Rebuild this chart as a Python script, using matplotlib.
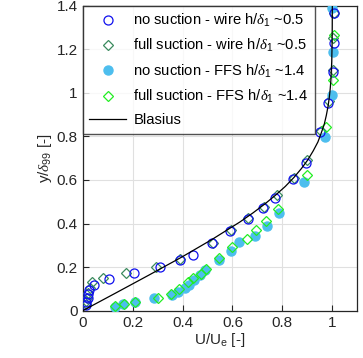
import matplotlib.pyplot as plt

plt.rcParams['font.family'] = ['Liberation Sans', 'DejaVu Sans']
plt.rcParams['mathtext.fontset'] = 'custom'
plt.rcParams['mathtext.it'] = 'Liberation Serif:italic'
plt.rcParams['mathtext.rm'] = 'Liberation Sans'

# no suction - wire
wire_ns_u = [0.012, 0.015, 0.02, 0.02, 0.025, 0.047, 0.106, 0.207, 0.311, 0.389, 0.44,
             0.519, 0.59, 0.661, 0.722, 0.77, 0.843, 0.893, 0.952, 0.983, 1.003, 1.005, 1.005]
wire_ns_y = [0.025, 0.04, 0.06, 0.075, 0.095, 0.118, 0.144, 0.171, 0.199, 0.233, 0.254,
             0.309, 0.364, 0.419, 0.473, 0.518, 0.603, 0.679, 0.818, 0.954, 1.096, 1.229, 1.364]

# full suction - wire
wire_fs_u = [0.012, 0.015, 0.018, 0.02, 0.03, 0.036, 0.083, 0.174, 0.294, 0.39, 0.52,
             0.595, 0.664, 0.728, 0.778, 0.846, 0.898, 0.955, 0.985, 1.004, 1.004, 1.005]
wire_fs_y = [0.03, 0.045, 0.06, 0.08, 0.105, 0.13, 0.151, 0.174, 0.202, 0.236, 0.31,
             0.37, 0.424, 0.476, 0.533, 0.611, 0.69, 0.825, 0.96, 1.104, 1.25, 1.365]

# no suction - FFS
ffs_ns_u = [0.13, 0.16, 0.21, 0.287, 0.356, 0.38, 0.409, 0.425, 0.445, 0.47, 0.49,
            0.546, 0.593, 0.628, 0.69, 0.738, 0.788, 0.888, 0.969, 0.999, 1.003, 1.0]
ffs_ns_y = [0.018, 0.03, 0.04, 0.057, 0.07, 0.085, 0.105, 0.12, 0.14, 0.165, 0.185,
            0.233, 0.274, 0.314, 0.344, 0.389, 0.447, 0.592, 0.798, 0.99, 1.188, 1.387]

# full suction - FFS
ffs_fs_u = [0.128, 0.166, 0.21, 0.302, 0.354, 0.385, 0.42, 0.44, 0.472, 0.495, 0.546,
            0.598, 0.658, 0.695, 0.736, 0.781, 0.897, 0.976, 1.004, 1.005]
ffs_fs_y = [0.02, 0.03, 0.04, 0.057, 0.075, 0.1, 0.13, 0.15, 0.17, 0.19, 0.24,
            0.29, 0.327, 0.37, 0.41, 0.467, 0.624, 0.844, 1.058, 1.265]

# Blasius profile (tabulated f'(eta), eta scaled by delta_99)
blasius_y = [0.0, 0.0815, 0.163, 0.244, 0.326, 0.407, 0.448, 0.489, 0.530, 0.570, 0.611,
             0.652, 0.692, 0.733, 0.774, 0.815, 0.855, 0.896, 0.937, 0.978, 1.018, 1.059,
             1.141, 1.222, 1.303, 1.385, 1.426]
blasius_u = [0.0, 0.1328, 0.2647, 0.3938, 0.5168, 0.6298, 0.6813, 0.7290, 0.7725, 0.8115, 0.8460,
             0.8761, 0.9018, 0.9233, 0.9422, 0.9555, 0.9676, 0.9759, 0.9827, 0.9878, 0.9915, 0.9943,
             0.9975, 0.9990, 0.9996, 0.9999, 1.0]

fig = plt.figure(figsize=(3.63, 3.58), dpi=100)
ax = fig.add_axes([82.7 / 363, 1 - 310.7 / 358, 274.6 / 363, 305.2 / 358])

ax.plot(wire_ns_u, wire_ns_y, 'o', ms=6.5, mfc='none', mec='#1010ee', mew=0.9,
        label=r'no suction - wire h/$\delta_1$ ~0.5', zorder=4)
ax.plot(wire_fs_u, wire_fs_y, 'D', ms=5.5, mfc='none', mec='#3a8a5e', mew=0.9,
        label=r'full suction - wire h/$\delta_1$ ~0.5', zorder=3)
ax.plot(ffs_ns_u, ffs_ns_y, 'o', ms=6.5, mfc='#4dbeee', mec='#4dbeee',
        label=r'no suction - FFS h/$\delta_1$ ~1.4', zorder=3)
ax.plot(ffs_fs_u, ffs_fs_y, 'D', ms=5.5, mfc='none', mec='#22ee22', mew=0.9,
        label=r'full suction - FFS h/$\delta_1$ ~1.4', zorder=4)
ax.plot(blasius_u, blasius_y, '-', color='k', lw=0.9, label='Blasius', zorder=5)

ax.set_xlim(0, 1.1)
ax.set_ylim(0, 1.4)
ax.set_xticks([0, 0.2, 0.4, 0.6, 0.8, 1])
ax.set_xticklabels(['0', '0.2', '0.4', '0.6', '0.8', '1'])
ax.set_yticks([0, 0.2, 0.4, 0.6, 0.8, 1, 1.2, 1.4])
ax.set_yticklabels(['0', '0.2', '0.4', '0.6', '0.8', '1', '1.2', '1.4'])
ax.grid(True, color='#e0e0e0', lw=0.8)
ax.set_axisbelow(True)
ax.tick_params(direction='in', labelsize=11, colors='#262626', length=4)
for s in ax.spines.values():
    s.set_color('#262626')
    s.set_linewidth(0.9)

ax.set_xlabel(r'U/U$_\mathrm{e}$ [-]', fontsize=11, color='#262626', labelpad=1)
ax.set_ylabel(r'y/$\delta_{99}$ [-]', fontsize=11, color='#262626', labelpad=2)

leg = ax.legend(loc='upper left', fontsize=10.6, frameon=True, fancybox=False,
                borderaxespad=0, handlelength=2.5, handletextpad=0.5,
                labelspacing=0.55, borderpad=0.45)
leg.get_frame().set_edgecolor('#262626')
leg.get_frame().set_linewidth(1.0)

fig.savefig('out.png', dpi=100)
